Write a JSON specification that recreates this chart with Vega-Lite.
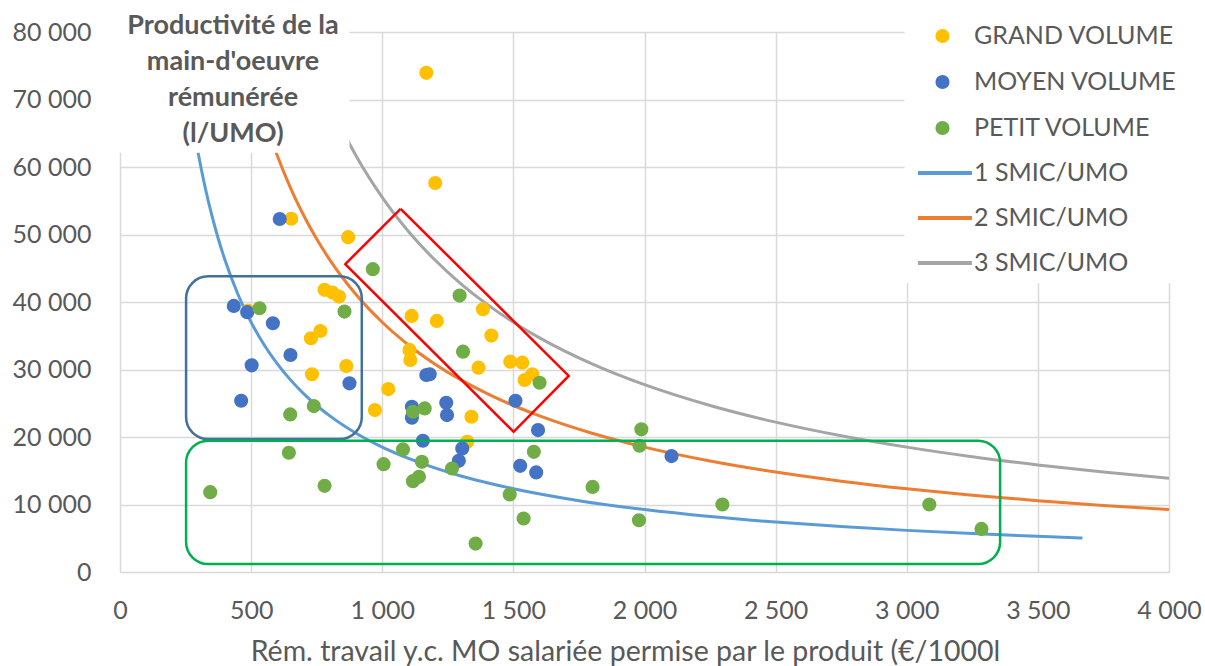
{
  "$schema": "https://vega.github.io/schema/vega-lite/v6.json",
  "width": 1049,
  "height": 540,
  "autosize": {"type": "none"},
  "padding": {"left": 120, "top": 32, "right": 36, "bottom": 94},
  "background": "white",
  "config": {
    "view": {"stroke": null},
    "font": "Lato",
    "axis": {
      "labelFont": "Lato", "labelFontSize": 25, "labelColor": "#595959",
      "titleFont": "Lato", "titleFontSize": 28.5, "titleColor": "#595959", "titleFontWeight": "normal",
      "gridColor": "#D9D9D9", "gridWidth": 1.5, "domain": false, "ticks": false
    },
    "legend": {
      "labelFont": "Lato", "labelFontSize": 25, "labelColor": "#595959", "labelLimit": 0,
      "padding": 0, "title": null, "orient": "none"
    }
  },
  "datasets": {
    "points": [
      {"cat": "GRAND VOLUME", "x": 1168, "y": 73950},
      {"cat": "GRAND VOLUME", "x": 1202, "y": 57630},
      {"cat": "GRAND VOLUME", "x": 870, "y": 49610},
      {"cat": "GRAND VOLUME", "x": 653, "y": 52330},
      {"cat": "GRAND VOLUME", "x": 780, "y": 41800},
      {"cat": "GRAND VOLUME", "x": 810, "y": 41400},
      {"cat": "GRAND VOLUME", "x": 835, "y": 40800},
      {"cat": "GRAND VOLUME", "x": 488, "y": 38720},
      {"cat": "GRAND VOLUME", "x": 728, "y": 34630},
      {"cat": "GRAND VOLUME", "x": 764, "y": 35710},
      {"cat": "GRAND VOLUME", "x": 732, "y": 29290},
      {"cat": "GRAND VOLUME", "x": 863, "y": 30520},
      {"cat": "GRAND VOLUME", "x": 1023, "y": 27100},
      {"cat": "GRAND VOLUME", "x": 972, "y": 23990},
      {"cat": "GRAND VOLUME", "x": 1112, "y": 37940},
      {"cat": "GRAND VOLUME", "x": 1208, "y": 37200},
      {"cat": "GRAND VOLUME", "x": 1384, "y": 38930},
      {"cat": "GRAND VOLUME", "x": 1416, "y": 35020},
      {"cat": "GRAND VOLUME", "x": 1104, "y": 32900},
      {"cat": "GRAND VOLUME", "x": 1107, "y": 31410},
      {"cat": "GRAND VOLUME", "x": 1367, "y": 30270},
      {"cat": "GRAND VOLUME", "x": 1340, "y": 23000},
      {"cat": "GRAND VOLUME", "x": 1324, "y": 19290},
      {"cat": "GRAND VOLUME", "x": 1488, "y": 31160},
      {"cat": "GRAND VOLUME", "x": 1534, "y": 31010},
      {"cat": "GRAND VOLUME", "x": 1572, "y": 29290},
      {"cat": "GRAND VOLUME", "x": 1543, "y": 28440},
      {"cat": "MOYEN VOLUME", "x": 609, "y": 52300},
      {"cat": "MOYEN VOLUME", "x": 434, "y": 39420},
      {"cat": "MOYEN VOLUME", "x": 485, "y": 38490},
      {"cat": "MOYEN VOLUME", "x": 583, "y": 36850},
      {"cat": "MOYEN VOLUME", "x": 650, "y": 32150},
      {"cat": "MOYEN VOLUME", "x": 502, "y": 30620},
      {"cat": "MOYEN VOLUME", "x": 462, "y": 25370},
      {"cat": "MOYEN VOLUME", "x": 875, "y": 27950},
      {"cat": "MOYEN VOLUME", "x": 1168, "y": 29180},
      {"cat": "MOYEN VOLUME", "x": 1181, "y": 29290},
      {"cat": "MOYEN VOLUME", "x": 1113, "y": 24480},
      {"cat": "MOYEN VOLUME", "x": 1113, "y": 22850},
      {"cat": "MOYEN VOLUME", "x": 1244, "y": 25070},
      {"cat": "MOYEN VOLUME", "x": 1247, "y": 23250},
      {"cat": "MOYEN VOLUME", "x": 1155, "y": 19440},
      {"cat": "MOYEN VOLUME", "x": 1508, "y": 25370},
      {"cat": "MOYEN VOLUME", "x": 1594, "y": 21020},
      {"cat": "MOYEN VOLUME", "x": 1305, "y": 18310},
      {"cat": "MOYEN VOLUME", "x": 1292, "y": 16470},
      {"cat": "MOYEN VOLUME", "x": 1526, "y": 15730},
      {"cat": "MOYEN VOLUME", "x": 1587, "y": 14750},
      {"cat": "MOYEN VOLUME", "x": 2103, "y": 17170},
      {"cat": "PETIT VOLUME", "x": 532, "y": 39080},
      {"cat": "PETIT VOLUME", "x": 856, "y": 38580},
      {"cat": "PETIT VOLUME", "x": 1295, "y": 40950},
      {"cat": "PETIT VOLUME", "x": 964, "y": 44870},
      {"cat": "PETIT VOLUME", "x": 1308, "y": 32640},
      {"cat": "PETIT VOLUME", "x": 1600, "y": 28040},
      {"cat": "PETIT VOLUME", "x": 739, "y": 24580},
      {"cat": "PETIT VOLUME", "x": 649, "y": 23350},
      {"cat": "PETIT VOLUME", "x": 1117, "y": 23740},
      {"cat": "PETIT VOLUME", "x": 1162, "y": 24240},
      {"cat": "PETIT VOLUME", "x": 644, "y": 17660},
      {"cat": "PETIT VOLUME", "x": 344, "y": 11830},
      {"cat": "PETIT VOLUME", "x": 780, "y": 12760},
      {"cat": "PETIT VOLUME", "x": 1005, "y": 15980},
      {"cat": "PETIT VOLUME", "x": 1079, "y": 18160},
      {"cat": "PETIT VOLUME", "x": 1151, "y": 16320},
      {"cat": "PETIT VOLUME", "x": 1117, "y": 13460},
      {"cat": "PETIT VOLUME", "x": 1140, "y": 14100},
      {"cat": "PETIT VOLUME", "x": 1266, "y": 15340},
      {"cat": "PETIT VOLUME", "x": 1486, "y": 11480},
      {"cat": "PETIT VOLUME", "x": 1539, "y": 7920},
      {"cat": "PETIT VOLUME", "x": 1356, "y": 4210},
      {"cat": "PETIT VOLUME", "x": 1578, "y": 17800},
      {"cat": "PETIT VOLUME", "x": 1802, "y": 12610},
      {"cat": "PETIT VOLUME", "x": 1988, "y": 21130},
      {"cat": "PETIT VOLUME", "x": 1981, "y": 18700},
      {"cat": "PETIT VOLUME", "x": 1979, "y": 7670},
      {"cat": "PETIT VOLUME", "x": 2297, "y": 10000},
      {"cat": "PETIT VOLUME", "x": 3086, "y": 10000},
      {"cat": "PETIT VOLUME", "x": 3285, "y": 6380}
    ],
    "curves": [
      {"serie": "1 SMIC/UMO", "x": 232, "y": 79741},
      {"serie": "1 SMIC/UMO", "x": 250, "y": 74000},
      {"serie": "1 SMIC/UMO", "x": 275, "y": 67273},
      {"serie": "1 SMIC/UMO", "x": 300, "y": 61667},
      {"serie": "1 SMIC/UMO", "x": 325, "y": 56923},
      {"serie": "1 SMIC/UMO", "x": 350, "y": 52857},
      {"serie": "1 SMIC/UMO", "x": 375, "y": 49333},
      {"serie": "1 SMIC/UMO", "x": 400, "y": 46250},
      {"serie": "1 SMIC/UMO", "x": 450, "y": 41111},
      {"serie": "1 SMIC/UMO", "x": 500, "y": 37000},
      {"serie": "1 SMIC/UMO", "x": 550, "y": 33636},
      {"serie": "1 SMIC/UMO", "x": 600, "y": 30833},
      {"serie": "1 SMIC/UMO", "x": 650, "y": 28462},
      {"serie": "1 SMIC/UMO", "x": 700, "y": 26429},
      {"serie": "1 SMIC/UMO", "x": 750, "y": 24667},
      {"serie": "1 SMIC/UMO", "x": 800, "y": 23125},
      {"serie": "1 SMIC/UMO", "x": 900, "y": 20556},
      {"serie": "1 SMIC/UMO", "x": 1000, "y": 18500},
      {"serie": "1 SMIC/UMO", "x": 1100, "y": 16818},
      {"serie": "1 SMIC/UMO", "x": 1200, "y": 15417},
      {"serie": "1 SMIC/UMO", "x": 1300, "y": 14231},
      {"serie": "1 SMIC/UMO", "x": 1400, "y": 13214},
      {"serie": "1 SMIC/UMO", "x": 1500, "y": 12333},
      {"serie": "1 SMIC/UMO", "x": 1750, "y": 10571},
      {"serie": "1 SMIC/UMO", "x": 2000, "y": 9250},
      {"serie": "1 SMIC/UMO", "x": 2250, "y": 8222},
      {"serie": "1 SMIC/UMO", "x": 2500, "y": 7400},
      {"serie": "1 SMIC/UMO", "x": 2750, "y": 6727},
      {"serie": "1 SMIC/UMO", "x": 3000, "y": 6167},
      {"serie": "1 SMIC/UMO", "x": 3250, "y": 5692},
      {"serie": "1 SMIC/UMO", "x": 3500, "y": 5286},
      {"serie": "1 SMIC/UMO", "x": 3670, "y": 5041},
      {"serie": "2 SMIC/UMO", "x": 463, "y": 79914},
      {"serie": "2 SMIC/UMO", "x": 500, "y": 74000},
      {"serie": "2 SMIC/UMO", "x": 550, "y": 67273},
      {"serie": "2 SMIC/UMO", "x": 600, "y": 61667},
      {"serie": "2 SMIC/UMO", "x": 650, "y": 56923},
      {"serie": "2 SMIC/UMO", "x": 700, "y": 52857},
      {"serie": "2 SMIC/UMO", "x": 750, "y": 49333},
      {"serie": "2 SMIC/UMO", "x": 800, "y": 46250},
      {"serie": "2 SMIC/UMO", "x": 900, "y": 41111},
      {"serie": "2 SMIC/UMO", "x": 1000, "y": 37000},
      {"serie": "2 SMIC/UMO", "x": 1100, "y": 33636},
      {"serie": "2 SMIC/UMO", "x": 1200, "y": 30833},
      {"serie": "2 SMIC/UMO", "x": 1300, "y": 28462},
      {"serie": "2 SMIC/UMO", "x": 1400, "y": 26429},
      {"serie": "2 SMIC/UMO", "x": 1500, "y": 24667},
      {"serie": "2 SMIC/UMO", "x": 1600, "y": 23125},
      {"serie": "2 SMIC/UMO", "x": 1800, "y": 20556},
      {"serie": "2 SMIC/UMO", "x": 2000, "y": 18500},
      {"serie": "2 SMIC/UMO", "x": 2250, "y": 16444},
      {"serie": "2 SMIC/UMO", "x": 2500, "y": 14800},
      {"serie": "2 SMIC/UMO", "x": 2750, "y": 13455},
      {"serie": "2 SMIC/UMO", "x": 3000, "y": 12333},
      {"serie": "2 SMIC/UMO", "x": 3250, "y": 11385},
      {"serie": "2 SMIC/UMO", "x": 3500, "y": 10571},
      {"serie": "2 SMIC/UMO", "x": 3750, "y": 9867},
      {"serie": "2 SMIC/UMO", "x": 4000, "y": 9250},
      {"serie": "3 SMIC/UMO", "x": 694, "y": 79971},
      {"serie": "3 SMIC/UMO", "x": 750, "y": 74000},
      {"serie": "3 SMIC/UMO", "x": 800, "y": 69375},
      {"serie": "3 SMIC/UMO", "x": 900, "y": 61667},
      {"serie": "3 SMIC/UMO", "x": 1000, "y": 55500},
      {"serie": "3 SMIC/UMO", "x": 1100, "y": 50455},
      {"serie": "3 SMIC/UMO", "x": 1200, "y": 46250},
      {"serie": "3 SMIC/UMO", "x": 1300, "y": 42692},
      {"serie": "3 SMIC/UMO", "x": 1400, "y": 39643},
      {"serie": "3 SMIC/UMO", "x": 1500, "y": 37000},
      {"serie": "3 SMIC/UMO", "x": 1600, "y": 34688},
      {"serie": "3 SMIC/UMO", "x": 1800, "y": 30833},
      {"serie": "3 SMIC/UMO", "x": 2000, "y": 27750},
      {"serie": "3 SMIC/UMO", "x": 2250, "y": 24667},
      {"serie": "3 SMIC/UMO", "x": 2500, "y": 22200},
      {"serie": "3 SMIC/UMO", "x": 2750, "y": 20182},
      {"serie": "3 SMIC/UMO", "x": 3000, "y": 18500},
      {"serie": "3 SMIC/UMO", "x": 3250, "y": 17077},
      {"serie": "3 SMIC/UMO", "x": 3500, "y": 15857},
      {"serie": "3 SMIC/UMO", "x": 3750, "y": 14800},
      {"serie": "3 SMIC/UMO", "x": 4000, "y": 13875}
    ],
    "redbox": [
      {"o": 1, "x": 1070, "y": 53810},
      {"o": 2, "x": 1711, "y": 29040},
      {"o": 3, "x": 1501, "y": 20770},
      {"o": 4, "x": 859, "y": 45610},
      {"o": 5, "x": 1070, "y": 53810}
    ]
  },
  "layer": [
    {
      "data": {"name": "curves"},
      "mark": {"type": "line", "strokeWidth": 3, "interpolate": "monotone"},
      "encoding": {
        "x": {
          "field": "x", "type": "quantitative",
          "scale": {"domain": [0, 4000], "nice": false, "zero": false},
          "axis": {
            "values": [0, 500, 1000, 1500, 2000, 2500, 3000, 3500, 4000],
            "labelExpr": "replace(format(datum.value, ','), ',', ' ')",
            "labelPadding": 26, "labelFlush": false,
            "title": "Rém. travail y.c. MO salariée permise par le produit (€/1000l",
            "titleX": 505, "titleY": 88, "titleAlign": "center", "titleBaseline": "alphabetic"
          }
        },
        "y": {
          "field": "y", "type": "quantitative",
          "scale": {"domain": [0, 80000], "nice": false},
          "axis": {
            "values": [0, 10000, 20000, 30000, 40000, 50000, 60000, 70000, 80000],
            "labelExpr": "replace(format(datum.value, ','), ',', ' ')",
            "labelPadding": 29, "title": null
          }
        },
        "stroke": {
          "field": "serie", "type": "nominal",
          "scale": {"domain": ["1 SMIC/UMO", "2 SMIC/UMO", "3 SMIC/UMO"], "range": ["#5B9BD5", "#ED7D31", "#A5A5A5"]},
          "legend": {
            "orient": "none", "legendX": 796, "legendY": 112,
            "symbolType": "stroke", "symbolSize": 2916, "symbolStrokeWidth": 4,
            "labelOffset": 0, "rowPadding": 3
          }
        }
      }
    },
    {
      "data": {"name": "points"},
      "mark": {"type": "circle", "size": 200, "opacity": 1},
      "encoding": {
        "x": {"field": "x", "type": "quantitative"},
        "y": {"field": "y", "type": "quantitative"},
        "fill": {
          "field": "cat", "type": "nominal",
          "scale": {"domain": ["GRAND VOLUME", "MOYEN VOLUME", "PETIT VOLUME"], "range": ["#FFC000", "#4472C4", "#70AD47"]},
          "legend": {
            "orient": "none", "legendX": 810, "legendY": -8.5,
            "symbolType": "circle", "symbolSize": 200, "symbolStrokeWidth": 0,
            "labelOffset": 19, "rowPadding": 20
          }
        }
      }
    },
    {
      "data": {"values": [{}]},
      "mark": {"type": "rect", "filled": false, "stroke": "#41719C", "strokeWidth": 2.5, "cornerRadius": 22},
      "encoding": {
        "x": {"datum": 252, "type": "quantitative"},
        "x2": {"datum": 922},
        "y": {"datum": 19690, "type": "quantitative"},
        "y2": {"datum": 43800}
      }
    },
    {
      "data": {"values": [{}]},
      "mark": {"type": "rect", "filled": false, "stroke": "#00B050", "strokeWidth": 2.5, "cornerRadius": 22},
      "encoding": {
        "x": {"datum": 252, "type": "quantitative"},
        "x2": {"datum": 3356},
        "y": {"datum": 1190, "type": "quantitative"},
        "y2": {"datum": 19440}
      }
    },
    {
      "data": {"name": "redbox"},
      "mark": {"type": "line", "stroke": "#FF0000", "strokeWidth": 2.5, "strokeJoin": "miter"},
      "encoding": {
        "x": {"field": "x", "type": "quantitative"},
        "y": {"field": "y", "type": "quantitative"},
        "order": {"field": "o", "type": "quantitative"}
      }
    },
    {
      "data": {"values": [{}]},
      "mark": {"type": "rect", "fill": "white", "stroke": null},
      "encoding": {
        "x": {"datum": -28, "type": "quantitative"},
        "x2": {"datum": 875},
        "y": {"datum": 62120, "type": "quantitative"},
        "y2": {"datum": 86000}
      }
    },
    {
      "data": {"values": [{}]},
      "mark": {"type": "rect", "fill": "white", "stroke": null},
      "encoding": {
        "x": {"datum": 2992, "type": "quantitative"},
        "x2": {"datum": 4300},
        "y": {"datum": 42830, "type": "quantitative"},
        "y2": {"datum": 86000}
      }
    },
    {
      "data": {"values": [{}]},
      "mark": {
        "type": "text", "font": "Lato", "fontSize": 27, "fontWeight": "bold", "color": "#595959",
        "align": "center", "baseline": "middle", "lineBreak": "\n", "lineHeight": 36
      },
      "encoding": {
        "x": {"datum": 431, "type": "quantitative"},
        "y": {"datum": 80860, "type": "quantitative"},
        "text": {"value": "Productivité de la\nmain-d'oeuvre\nrémunérée\n(l/UMO)"}
      }
    }
  ]
}
